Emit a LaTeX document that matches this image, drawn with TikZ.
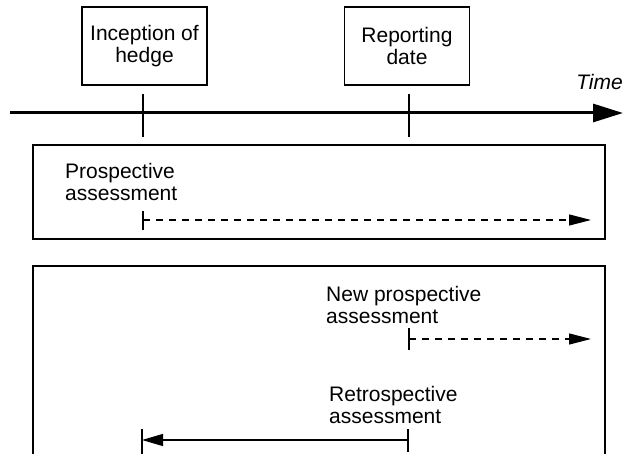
\documentclass[tikz,border=0pt]{standalone}
\usepackage{fontspec}
\setmainfont{Liberation Sans}
\usetikzlibrary{arrows.meta}
\begin{document}
\begin{tikzpicture}[x=1pt,y=-1pt,
  every node/.style={font=\fontsize{21}{22}\selectfont},
  datebox/.style={draw, line width=1.1pt, align=center, minimum width=125pt, minimum height=78pt, inner sep=0pt},
  panel/.style={draw, line width=1.1pt},
  label/.style={anchor=north west, align=left, inner sep=0pt},
  tick/.style={line width=2.4pt},
  smalltick/.style={line width=1.2pt},
  axis/.style={line width=3pt, -{Triangle[length=30pt,width=18pt]}},
  future/.style={line width=1.2pt, dash pattern=on 7pt off 6pt, -{Triangle[length=22pt,width=11pt]}},
  past/.style={line width=1.2pt, -{Triangle[length=21pt,width=12pt]}}
]
\useasboundingbox (0,0) rectangle (624,454);
\begin{scope}
\clip (0,0) rectangle (624,454);

% dates on the time line
\node[datebox] (incep) at (144.5,46) {Inception of\\hedge};
\node[datebox] (rep) at (407,46) {Reporting\\date};

% time axis
\coordinate (axL) at (10,113);
\coordinate (axR) at (623,113);
\draw[axis] (axL) -- (axR);
\node[anchor=base east, inner sep=0pt, font=\fontsize{21}{22}\selectfont\itshape] (time) at (623,90) {Time};

% ticks for the two dates
\coordinate (t1a) at (143,94);  \coordinate (t1b) at (143,137);
\coordinate (t2a) at (409,94);  \coordinate (t2b) at (409,137);
\draw[tick] (t1a) -- (t1b);
\draw[tick] (t2a) -- (t2b);

% first panel: prospective assessment at inception
\draw[panel] (33,145) rectangle (605,239);
\node[label] (prosp) at (65,163) {Prospective\\assessment};
\coordinate (p1s) at (143,220); \coordinate (p1e) at (591,220);
\coordinate (p1a) at (143,211); \coordinate (p1b) at (143,230);
\draw[smalltick] (p1a) -- (p1b);
\draw[future] (p1s) -- (p1e);

% second panel: assessments at the reporting date
\draw[panel] (33,470) -- (33,266) -- (605,266) -- (605,470);
\node[label] (newprosp) at (326,286) {New prospective\\assessment};
\coordinate (p2s) at (409,339); \coordinate (p2e) at (591,339);
\coordinate (p2a) at (409,328); \coordinate (p2b) at (409,350);
\draw[smalltick] (p2a) -- (p2b);
\draw[future] (p2s) -- (p2e);

\node[label] (retro) at (329,386) {Retrospective\\assessment};
\coordinate (r1s) at (408,440); \coordinate (r1e) at (142,440);
\coordinate (r1a) at (408,429); \coordinate (r1b) at (408,452);
\coordinate (r2a) at (142,429); \coordinate (r2b) at (142,455);
\draw[smalltick] (r1a) -- (r1b);
\draw[smalltick] (r2a) -- (r2b);
\draw[past] (r1s) -- (r1e);
\end{scope}
\end{tikzpicture}
\end{document}
